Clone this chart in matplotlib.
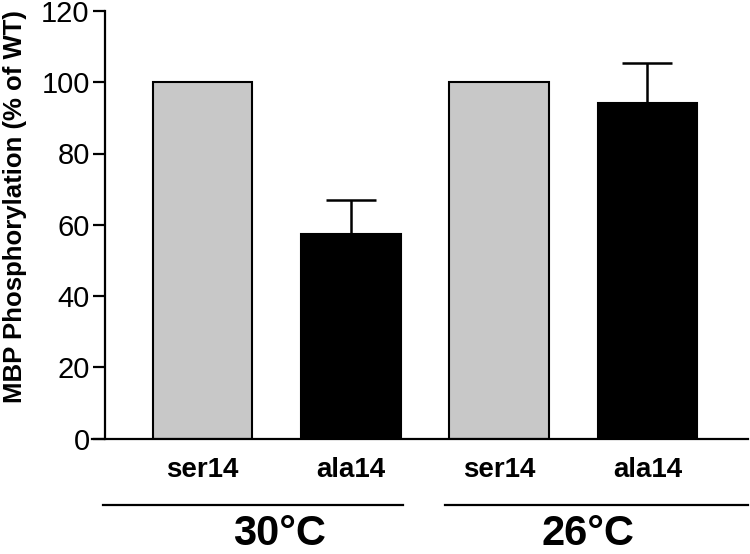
import matplotlib
matplotlib.use("Agg")
import matplotlib.pyplot as plt
from matplotlib.lines import Line2D

strains = ["ser14", "ala14", "ser14", "ala14"]
temps = ["30°C", "26°C"]
values = [100, 57.3, 100, 94.1]
err_up = [0, 9.6, 0, 11.2]
has_err = [False, True, False, True]
colors = ["#c8c8c8", "black", "#c8c8c8", "black"]

plt.rcParams["font.family"] = ["Liberation Sans", "DejaVu Sans"]

fig = plt.figure(figsize=(7.5, 5.54), dpi=100)
W, H = 750, 554
# axes box in pixels: x 92..748, y 11..438.5
ax = fig.add_axes([92 / W, 1 - 438.5 / H, (748 - 92) / W, (438.5 - 11) / H])

x = list(range(len(values)))
ax.bar(x, values, width=0.67, color=colors, edgecolor="black", linewidth=1.5, zorder=2)
xe = [xi for xi, h in zip(x, has_err) if h]
ye = [v for v, h in zip(values, has_err) if h]
ee = [e for e, h in zip(err_up, has_err) if h]
ax.errorbar(xe, ye, yerr=[[0] * len(ee), ee], fmt="none", ecolor="black",
            elinewidth=1.8, capsize=18, capthick=1.8, zorder=1)

ax.set_xlim(-0.747, 3.679)
ax.set_ylim(0, 120)
ax.set_yticks(range(0, 121, 20))
ax.set_xticks([])
for s in ["top", "right"]:
    ax.spines[s].set_visible(False)
ax.spines["left"].set_position(("axes", 13 / 656))
ax.spines["left"].set_linewidth(1.6)
ax.spines["bottom"].set_linewidth(1.6)
ax.tick_params(axis="y", length=9, width=1.6, pad=2, labelsize=21, direction="out")

ax.set_ylabel("MBP Phosphorylation (% of WT)", fontsize=18.5, fontweight="bold")
ax.yaxis.set_label_coords(-0.099, 0.5415)

tr = ax.get_xaxis_transform()
for xi, name in zip(x, strains):
    ax.text(xi, -0.0737, name, transform=tr, ha="center", va="center",
            fontsize=20, fontweight="bold")

group_lines = [(-0.673, 1.348), (1.638, 3.679)]
group_text_x = [0.52, 2.6]
for (a, b), tx, t in zip(group_lines, group_text_x, temps):
    ax.add_line(Line2D([a, b], [-0.1556, -0.1556], transform=tr, color="black",
                       linewidth=1.6, clip_on=False))
    ax.text(tx, -0.224, t, transform=tr, ha="center", va="center",
            fontsize=30, fontweight="bold")

fig.savefig("out.png", dpi=100)
